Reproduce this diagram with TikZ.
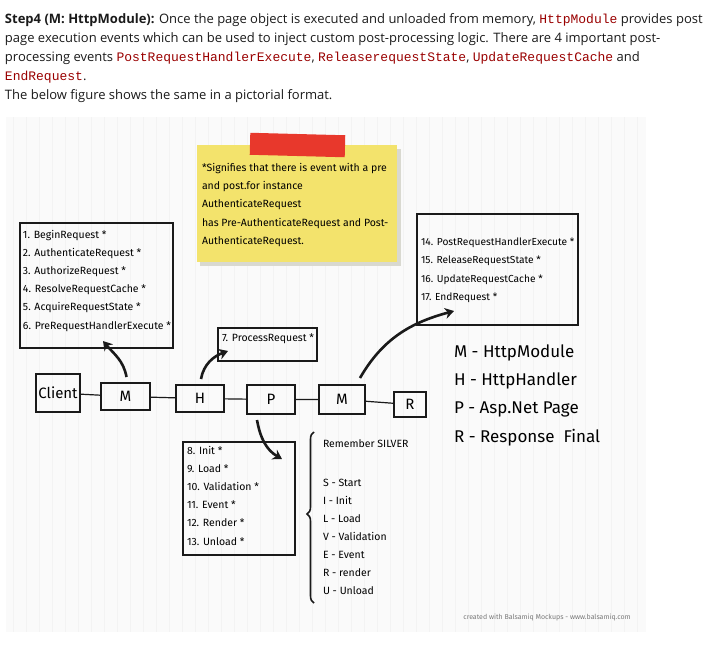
\documentclass[tikz,border=0pt]{standalone}
\usepackage{fontspec}
\setmainfont{Open Sans}
\newfontfamily\sketchfont{Fira Sans}
\newfontfamily\codefont{Liberation Mono}
\usetikzlibrary{arrows.meta,decorations.pathreplacing,calc}
\definecolor{inkmain}{HTML}{1A1A1A}
\definecolor{codered}{HTML}{990000}
\definecolor{paperbg}{HTML}{FAFAFA}
\definecolor{gridln}{HTML}{F3F3F3}
\definecolor{stickyyel}{HTML}{F3E36C}
\definecolor{stickyshd}{HTML}{D9D9D0}
\definecolor{tapered}{HTML}{E8382C}
\definecolor{footgray}{HTML}{7A7A7A}
\newcommand{\cw}[1]{{\codefont\fontsize{13}{15}\selectfont\textcolor{codered}{#1}}}
\tikzset{
  every node/.append style={inner sep=0pt,outer sep=0pt},
  bodyline/.style={anchor=base west,text=inkmain,font=\fontsize{13}{15}\selectfont},
  chainbox/.style={draw=inkmain,line width=1.3pt,font=\sketchfont\fontsize{15}{18}\selectfont},
  evbox/.style={draw=inkmain,line width=1.3pt},
  evtext/.style={anchor=north west,align=left,font=\sketchfont\fontsize{10.5}{18.2}\selectfont},
  legend/.style={anchor=west,font=\sketchfont\fontsize{17}{20}\selectfont},
  silver/.style={anchor=west,font=\sketchfont\fontsize{10.5}{12}\selectfont},
  bigarrow/.style={->,line width=2.6pt,inkmain,>={Stealth[length=9pt,width=11pt]}},
  linkline/.style={draw=inkmain,line width=1.2pt}
}
\begin{document}
\begin{tikzpicture}[x=1pt,y=-1pt]
\useasboundingbox (0,0) rectangle (725,650);
% text above the figure
\node[bodyline] (l1) at (5,23.5) {\textbf{Step4 (M: HttpModule):} Once the page object is executed and unloaded from memory, \cw{HttpModule} provides post};
\node[bodyline] (l2) at (5,42.5) {page execution events which can be used to inject custom post-processing logic. There are 4 important post-};
\node[bodyline] (l3) at (5,61.5) {processing events \cw{PostRequestHandlerExecute}, \cw{ReleaserequestState}, \cw{UpdateRequestCache} and};
\node[bodyline] (l4) at (5,81) {\cw{EndRequest}.};
\node[bodyline] (l5) at (5,100) {The below figure shows the same in a pictorial format.};
% mockup background
\fill[paperbg] (6,117) rectangle (646,632);
\draw[gridln,line width=0.5pt,step=13] (6,117) grid (646,632);
% sticky note
\fill[stickyshd] (200,149) rectangle (401,266);
\fill[stickyyel] (197,145) rectangle (397,262);
\fill[tapered,rotate around={-1.5:(297,145)}] (250,134) rectangle (345,156);
\node[anchor=north west,align=left,font=\sketchfont\fontsize{10.5}{18.3}\selectfont] (note) at (202,163)
  {*Signifies that there is event with a pre\\and post.for instance\\AuthenticateRequest\\has Pre-AuthenticateRequest and Post-\\AuthenticateRequest.};
% event boxes
\node[evbox,minimum width=153,minimum height=125] (pre) at (96.5,285.5) {};
\node[evtext] (pretext) at ($(pre.north west)+(3,7)$)
  {1. BeginRequest *\\2. AuthenticateRequest *\\3. AuthorizeRequest *\\4. ResolveRequestCache *\\5. AcquireRequestState *\\6. PreRequestHandlerExecute *};
\node[evbox,minimum width=99,minimum height=33] (proc) at (267.5,344.5) {};
\node[evtext] (proctext) at ($(proc.north west)+(4,6)$) {7. ProcessRequest *};
\node[evbox,minimum width=161,minimum height=111] (post) at (497.5,269.5) {};
\node[evtext,font=\sketchfont\fontsize{10.2}{18.3}\selectfont] (posttext) at ($(post.north west)+(4,24)$)
  {14. PostRequestHandlerExecute *\\15. ReleaseRequestState *\\16. UpdateRequestCache *\\17. EndRequest *};
\node[evbox,minimum width=112,minimum height=113] (life) at (239,498.5) {};
\node[evtext] (lifetext) at ($(life.north west)+(4,4)$)
  {8. Init *\\9. Load *\\10. Validation *\\11. Event *\\12. Render *\\13. Unload *};
% request chain
\node[chainbox,minimum width=44,minimum height=38] (client) at (58,393) {Client};
\node[chainbox,minimum width=49,minimum height=27] (m1) at (125.5,396.5) {M};
\node[chainbox,minimum width=48,minimum height=27] (h) at (200,398.5) {H};
\node[chainbox,minimum width=48,minimum height=29] (p) at (271,399.5) {P};
\node[chainbox,minimum width=46,minimum height=29] (m2) at (342,399.5) {M};
\node[chainbox,minimum width=32,minimum height=25] (r) at (410,404.5) {R};
\draw[linkline] (client) -- (m1) -- (h) -- (p) -- (m2) -- (r);
% curved arrows
\coordinate (pretip) at (103,341);
\coordinate (proctip) at (228,351);
\coordinate (posttip) at (454,311);
\coordinate (lifetip) at (282,459);
\draw[bigarrow] ($(m1.north)+(1,-6)$) to[out=100,in=-50] (pretip);
\draw[bigarrow] ($(h.north)+(1,-6)$) to[out=80,in=200] (proctip);
\draw[bigarrow] ($(m2.north)+(18,-7)$) to[out=60,in=195] (posttip);
\draw[bigarrow] ($(p.south)+(-14,6)$) to[out=-80,in=150] (lifetip);
% SILVER
\draw[inkmain,line width=1.6pt,decorate,decoration={brace,amplitude=7pt,aspect=0.52}] (314,603) -- (314,432);
\node[silver] (rem) at (323,444) {Remember SILVER};
\node[silver,anchor=north west,align=left,font=\sketchfont\fontsize{10.5}{18}\selectfont] (silverlist) at (323,479)
  {S - Start\\I - Init\\L - Load\\V - Validation\\E - Event\\R - render\\U - Unload};
% legend
\node[legend] (legm) at (454,353) {M - HttpModule};
\node[legend] (legh) at (454,381) {H - HttpHandler};
\node[legend] (legp) at (454,409) {P - Asp.Net Page};
\node[legend] (legr) at (454,438) {R - Response\ \ Final};
\node[font=\sketchfont\fontsize{7}{8}\selectfont,text=footgray] (foot) at (547,618) {created with Balsamiq Mockups - www.balsamiq.com};
\end{tikzpicture}
\end{document}
